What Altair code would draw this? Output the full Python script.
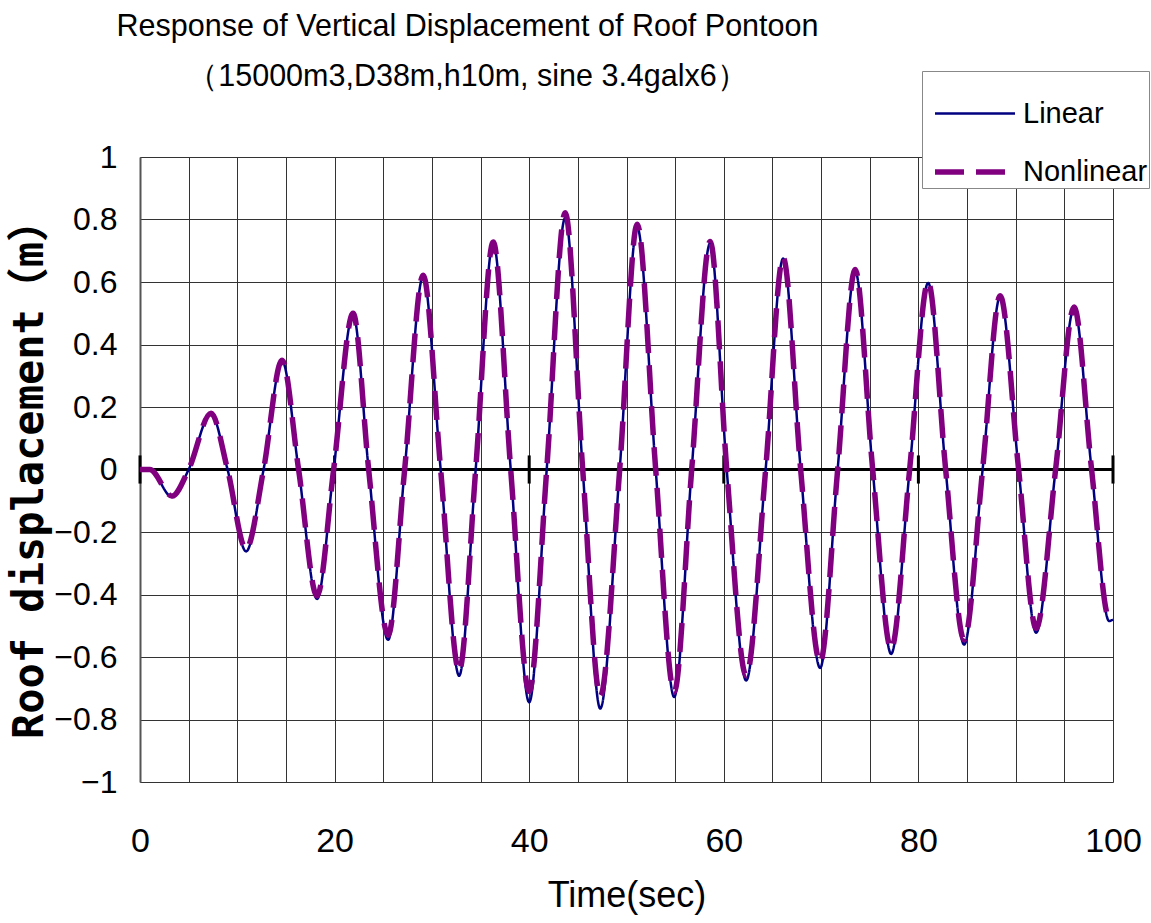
import altair as alt
import pandas as pd

# ---- data ----
lin_t = [0, 1.0, 3.3, 5.0, 7.3, 9.0, 10.9, 12.7, 14.6, 16.3, 18.2, 19.9, 21.9, 23.5,
         25.5, 27.2, 29.1, 30.9, 32.8, 34.5, 36.3, 38.1, 40.0, 41.8, 43.7, 45.5,
         47.3, 49.3, 51.1, 53.0, 54.9, 56.7, 58.6, 60.3, 62.3, 64.3, 66.1, 67.9,
         69.9, 71.7, 73.5, 75.3, 77.2, 79.1, 81.0, 82.8, 84.7, 86.6, 88.4, 90.3,
         92.1, 94.1, 96.0, 97.8, 99.6, 100]
lin_v = [0, 0, -0.088, 0, 0.178, 0, -0.262, 0, 0.348, 0, -0.414, 0, 0.496, 0,
         -0.545, 0, 0.618, 0, -0.66, 0, 0.725, 0, -0.745, 0, 0.805, 0,
         -0.765, 0, 0.775, 0, -0.728, 0, 0.724, 0, -0.675, 0, 0.675, 0,
         -0.635, 0, 0.635, 0, -0.59, 0, 0.597, 0, -0.56, 0, 0.553, 0,
         -0.522, 0, 0.517, 0, -0.485, -0.48]

non_t = [0, 1.0, 3.3, 5.0, 7.3, 9.0, 10.9, 12.7, 14.6, 16.3, 18.2, 19.9, 21.9, 23.5,
         25.5, 27.2, 29.1, 30.9, 32.8, 34.5, 36.3, 38.1, 40.0, 41.8, 43.7, 45.5,
         47.3, 49.3, 51.1, 53.0, 54.9, 56.7, 58.6, 60.3, 62.3, 64.3, 66.1, 67.9,
         69.9, 71.7, 73.5, 75.3, 77.2, 79.1, 81.0, 82.8, 84.7, 86.6, 88.4, 90.3,
         92.1, 94.1, 96.0, 97.8, 99.6, 100]
non_v = [0, 0, -0.085, 0, 0.18, 0, -0.255, 0, 0.35, 0, -0.405, 0, 0.5, 0,
         -0.53, 0, 0.622, 0, -0.645, 0, 0.728, 0, -0.71, 0, 0.822, 0,
         -0.725, 0, 0.785, 0, -0.712, 0, 0.73, 0, -0.66, 0, 0.678, 0,
         -0.617, 0, 0.64, 0, -0.575, 0, 0.6, 0, -0.545, 0, 0.556, 0,
         -0.508, 0, 0.52, 0, -0.475, -0.47]

series_names = ["Linear", "Nonlinear"]
series_colors = ["#000080", "#800080"]
zero_ticks = [0, 20, 40, 60, 80, 100]
x_grid = list(range(0, 101, 5))
y_grid = [-1, -0.8, -0.6, -0.4, -0.2, 0, 0.2, 0.4, 0.6, 0.8, 1]

title_lines = ["Response of Vertical Displacement of Roof Pontoon",
               "（15000m3,D38m,h10m, sine 3.4galx6）"]

FONT = "Liberation Sans, Arial, sans-serif"

rows = [{"t": t, "v": v, "series": "Linear"} for t, v in zip(lin_t, lin_v)]
rows += [{"t": t, "v": v, "series": "Nonlinear"} for t, v in zip(non_t, non_v)]
df = pd.DataFrame(rows)
tick_df = pd.DataFrame({"t": zero_ticks})

legend = alt.Legend(orient="none", legendX=782, legendY=-86, title=None,
                    symbolType="stroke", symbolSize=6400, labelFontSize=29,
                    labelFont=FONT, labelColor="black", labelLimit=400,
                    strokeColor="#888", fillColor="white", padding=1,
                    symbolOffset=9, rowPadding=-10, labelOffset=5)

xscale = alt.Scale(domain=[0, 100], nice=False, zero=False)
yscale = alt.Scale(domain=[-1, 1], nice=False, zero=False)

xaxis = alt.Axis(values=x_grid, labelExpr="datum.value % 20 === 0 ? datum.label : ''",
                 grid=True, gridColor="#333", gridWidth=1, ticks=False, domain=False,
                 labelFontSize=34, labelFont=FONT, labelColor="black", labelPadding=42,
                 labelFlush=False, labelOverlap=False,
                 title="Time(sec)", titleFontSize=36, titleFont=FONT,
                 titleFontWeight="normal", titleColor="black", titlePadding=20)
yaxis = alt.Axis(values=y_grid, format="~g", grid=True, gridColor="#333", gridWidth=1,
                 ticks=False, domain=True, domainColor="#555", domainWidth=2,
                 labelFontSize=32, labelFont=FONT, labelColor="black", labelPadding=23,
                 labelOverlap=False, labelFlush=False,
                 title="Roof displacement（m）", titleFontSize=42, titleY=312,
                 titleFont="DejaVu Sans Mono, Noto Sans CJK JP", titleFontWeight="bold",
                 titleColor="black", titlePadding=2)

base = alt.Chart(df).encode(
    x=alt.X("t:Q", scale=xscale, axis=xaxis),
    y=alt.Y("v:Q", scale=yscale, axis=yaxis),
    color=alt.Color("series:N", scale=alt.Scale(domain=series_names, range=series_colors), legend=legend),
    strokeDash=alt.StrokeDash("series:N", scale=alt.Scale(domain=series_names, range=[[1, 0], [29, 12]]), legend=legend),
    strokeWidth=alt.StrokeWidth("series:N", scale=alt.Scale(domain=series_names, range=[2.5, 5.5]), legend=legend),
)

lin_line = base.transform_filter(alt.datum.series == "Linear").mark_line(interpolate="monotone")
non_line = base.transform_filter(alt.datum.series == "Nonlinear").mark_line(interpolate="monotone")

zero_line = alt.Chart(tick_df).mark_rule(color="black", strokeWidth=3).encode(
    y=alt.datum(0, scale=yscale))
zero_ticks_layer = alt.Chart(tick_df).mark_rule(color="black", strokeWidth=3).encode(
    x=alt.X("t:Q", scale=xscale), y=alt.datum(-0.045), y2=alt.datum(0.045))

chart = alt.layer(zero_line, zero_ticks_layer, lin_line, non_line).properties(
    width=973, height=625,
    title=alt.TitleParams(text=title_lines, fontSize=30.5, font=FONT, fontWeight="normal",
                          anchor="middle", dx=-159, dy=72, lineHeight=50, offset=50,
                          color="black"),
    autosize=alt.AutoSizeParams(type="none"),
    padding={"left": 140, "top": 157, "right": 38, "bottom": 141},
).configure_view(stroke="#888", strokeWidth=3).configure(background="white")

chart.save("out.html", embed_options={"renderer": "svg", "actions": False})
